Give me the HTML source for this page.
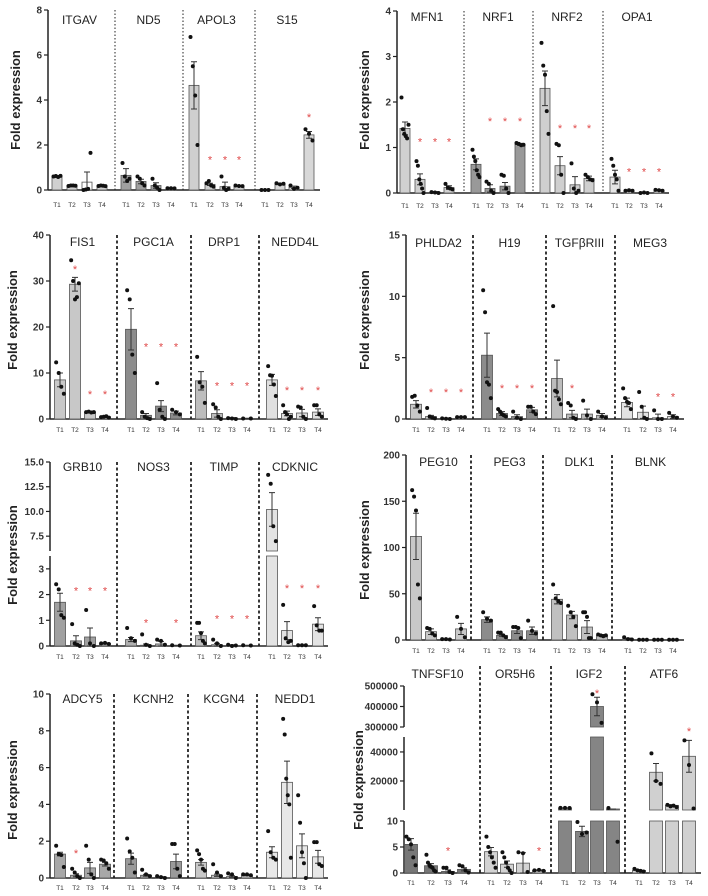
<!DOCTYPE html>
<html><head><meta charset="utf-8">
<style>
html,body{margin:0;padding:0;background:#fff;}
svg{display:block;font-family:"Liberation Sans",Arial,sans-serif;}
</style></head>
<body>
<svg id="fig" width="708" height="896" viewBox="0 0 708 896" xmlns="http://www.w3.org/2000/svg"></svg>
<script>
// ---------- DATA ----------
const tLabels = ["T1","T2","T3","T4"];
// Panel 1
const p1Genes = ["ITGAV","ND5","APOL3","S15"];
const p1Means = [[0.6,0.2,0.35,0.18],[0.65,0.38,0.2,0.08],[4.65,0.25,0.15,0.18],[0.02,0.27,0.12,2.45]];
const p1Sems  = [[0.03,0.02,0.45,0.02],[0.3,0.1,0.12,0.01],[1.05,0.05,0.2,0.02],[0,0.03,0.05,0.15]];
const p1Stars = [[null,null,null,null],[null,null,null,null],[null,1.4,1.4,1.4],[null,null,null,3.3]];
const p1Dots  = [[[0.6,0.62,0.58,0.63],[0.18,0.2,0.2,0.19],[0,0.02,0.05,1.65],[0.18,0.2,0.19,0.17]],
 [[1.2,0.6,0.4,0.5],[0.6,0.5,0.3,0.2],[0.5,0.2,0.1,0],[0.08,0.08,0.07]],
 [[6.8,5.5,4.2,2.0],[0.3,0.4,0.2,0.15],[0.6,0.1,0,0.05],[0.2,0.18,0.17]],
 [[0,0,0],[0.3,0.25,0.28],[0.2,0.05,0.1],[2.7,2.5,2.2]]];
const p1Ticks = [0,2,4,6,8];
// Panel 2
const p2Genes = ["MFN1","NRF1","NRF2","OPA1"];
const p2Means = [[1.42,0.3,0.02,0.12],[0.63,0.1,0.15,1.07],[2.3,0.6,0.18,0.32],[0.35,0.05,0.01,0.06]];
const p2Sems  = [[0.14,0.12,0.01,0.04],[0.12,0.08,0.08,0.02],[0.38,0.2,0.18,0.05],[0.15,0.01,0,0.01]];
const p2Stars = [[null,1.15,1.15,1.15],[null,1.6,1.6,1.6],[null,1.45,1.45,1.45],[null,0.5,0.5,0.5]];
const p2Dots  = [[[2.1,1.4,1.3,1.25,1.2,1.5],[0.7,0.6,0.3,0.2,0.1,0],[0.02,0.01,0],[0.2,0.12,0.1,0.08]],
 [[0.95,0.8,0.7,0.5,0.4,0.35],[0.25,0.2,0.05,0],[0.4,0.38,0.1,0],[1.1,1.08,1.05,1.06]],
 [[3.3,2.8,2.6,1.8,1.3],[1.08,1.05,0.4,0.0],[0.65,0.1,0,0.05],[0.4,0.35,0.3,0.28]],
 [[0.75,0.6,0.4,0.3,0.05],[0.05,0.06,0.05],[0,0.01,0],[0.07,0.06,0.05]]];
const p2Ticks = [0,1,2,3,4];
// Panel 3
const p3Genes = ["FIS1","PGC1A","DRP1","NEDD4L"];
const p3Means = [[8.5,29.3,1.5,0.5],[19.5,0.8,2.8,1.3],[8.3,1.2,0.2,0.1],[8.5,1.2,1.3,1.5]];
const p3Sems  = [[1.5,1.5,0.2,0.1],[4.5,0.4,1.2,0.4],[2,0.8,0.1,0.05],[1.2,0.5,0.8,0.7]];
const p3Stars = [[null,32.8,5.6,5.6],[null,16,16,16],[null,7.5,7.5,7.5],[null,6.5,6.5,6.5]];
const p3Dots  = [[[12.3,10,7,5.5],[34.5,30,26,26.5,29.5],[1.5,1.6,1.4,1.5],[0.4,0.5,0.6,0.3]],
 [[28,26,14,10],[1.5,0.5,0.2,0],[7.8,2,0.5,0],[2,1.5,1]],
 [[13.5,8,7,3.5],[3.2,2.5,0.5,0],[0.2,0.1,0],[0.1,0.1]],
 [[11.5,9.5,9.4,7.5,5],[3,1.5,1,0,0.5],[2.7,2.5,0.5,0],[3,3,1,0.5]]];
const p3Ticks = [0,10,20,30,40];
// Panel 4
const p4Genes = ["PHLDA2","H19","TGF\u03B2RIII","MEG3"];
const p4Means = [[1.2,0.2,0.05,0.15],[5.2,0.45,0.2,0.75],[3.3,0.4,0.4,0.3],[1.35,0.55,0.1,0.2]];
const p4Sems  = [[0.3,0.1,0.03,0.02],[1.8,0.15,0.15,0.2],[1.5,0.3,0.4,0.15],[0.35,0.5,0.3,0.15]];
const p4Stars = [[null,2.3,2.3,2.3],[null,2.6,2.6,2.6],[null,2.6,null,null],[null,null,1.9,1.9]];
const p4Dots  = [[[1.8,1.9,1.1,0.6],[0.9,0.2,0.1,0.05],[0.05,0.02,0],[0.15,0.15,0.15]],
 [[10.5,8.7,3,2.8,1.7],[0.8,0.6,0.4,0.3,0.2],[0.6,0.1,0],[1.0,1.0,0.6,0.4]],
 [[9.2,2.3,2.2,1.6,1.2],[1.3,1.1,0.1,0],[1.5,0.3,0],[0.6,0.2,0.1]],
 [[2.5,1.7,1.4,1.3,0.8],[2.2,1,0.1,0],[0.7,0,0],[0.5,0.2,0.1]]];
const p4Ticks = [0,5,10,15];
// Panel 5
const p5Genes = ["GRB10","NOS3","TIMP","CDKNIC"];
const p5Means = [[1.7,0.2,0.35,0.1],[0.25,0.03,0.08,0.02],[0.4,0.05,0.03,0.02],[10.2,0.6,0.03,0.85]];
const p5Sems  = [[0.35,0.2,0.35,0.02],[0.08,0.05,0.1,0.01],[0.15,0.05,0.02,0.01],[1.7,0.35,0.01,0.25]];
const p5Stars = [[null,2.2,2.2,2.2],[null,0.95,null,0.95],[null,1.1,1.1,1.1],[null,2.3,2.3,2.3]];
const p5Dots  = [[[2.4,2.2,1.2,1.1],[0.85,0.1,0.05,0],[1.4,0.1,0],[0.1,0.12,0.08]],
 [[0.7,0.3,0.2],[0.45,0.05,0],[0.25,0.2,0.05],[0.03,0.02]],
 [[0.9,0.9,0.5,0.2,0.1],[0.25,0.1,0],[0.05,0,0.02],[0.03,0.02]],
 [[13.7,12.8,8.5,7],[1.6,0.3,0.15,0.2],[0.03,0.03,0.03],[1.55,0.8,0.6,0.6]]];
const p5Ticks = [0,1,2,3,7.5,10.0,12.5,15.0];
const p5TickText = ["0","1","2","3","7.5","10.0","12.5","15.0"];
// Panel 6
const p6Genes = ["PEG10","PEG3","DLK1","BLNK"];
const p6Means = [[112,9,0.8,12],[22,5,10,10],[44,27,14,5],[1,0.3,0.3,0.3]];
const p6Sems  = [[25,3,0.3,6],[3,1,3,4],[5,4,7,1],[1,0,0,0]];
const p6Stars = [[null,null,null,null],[null,null,null,null],[null,null,null,null],[null,null,null,null]];
const p6Dots  = [[[162,155,140,60,45],[13,12,7,5],[1,1,0.5],[25,12,3]],
 [[30,23,21],[8,8,5,3],[14,14,13,2],[21,10,7]],
 [[60,45,42,40],[37,30,25,15],[30,30,25,2,2],[6,5,4,5]],
 [[3,1,0.5],[0.3,0.3,0.3],[0.3,0.3,0.3],[0.3,0.3,0.3]]];
const p6Ticks = [0,50,100,150,200];
// Panel 7
const p7Genes = ["ADCY5","KCNH2","KCGN4","NEDD1"];
const p7Means = [[1.3,0.15,0.55,0.75],[1.05,0.15,0.05,0.9],[0.85,0.15,0.08,0.15],[1.4,5.2,1.75,1.15]];
const p7Sems  = [[0.1,0.08,0.3,0.1],[0.3,0.05,0.02,0.4],[0.15,0.06,0.04,0.03],[0.3,1.15,0.65,0.35]];
const p7Stars = [[null,1.4,null,null],[null,null,null,null],[null,null,null,null],[null,null,null,null]];
const p7Dots  = [[[1.75,1.3,1.25,0.6],[0.5,0.3,0.1,0],[1.75,1.0,0.2,0],[1.0,0.95,0.8,0.5]],
 [[2.15,1.45,1.1,0.3],[0.45,0.2,0.1],[0.1,0.05,0],[1.85,1.85,0.5,0.1]],
 [[1.5,1.3,1.0,0.5,0.4],[0.75,0.3,0.1],[0.25,0.2,0],[0.2,0.2,0.15]],
 [[2.55,1.4,1.1,1.0],[8.65,7.8,5.4,4.5,4.0,1.1],[4.5,3.0,1.4,0.8,0],[1.95,1.95,0.75,0.65]]];
const p7Ticks = [0,2,4,6,8,10];
// Panel 8
const p8Genes = ["TNFSF10","OR5H6","IGF2","ATF6"];
const p8Means = [[5.5,1.4,0.3,0.7],[4.1,1.7,1.9,0.5],[1400,8,400000,700],[0.5,26000,3200,37000]];
const p8Sems  = [[1.1,0.4,0.3,0.3],[0.8,0.6,2,0.1],[50,1,45000,0],[0.1,6000,500,11000]];
const p8Stars = [[null,null,4.5,null],[null,null,null,4.5],[null,null,470000,null],[null,null,null,55000]];
const p8Dots  = [[[7,6.5,5.5,3,1.5],[3.5,2,1.5,1.2,1,0.5,0.3],[1,1,0.2,0],[1.5,1.3,0.5,0.1]],
 [[7,5,4,3,2,1],[4,3,2,1,0.5,0],[4,3.8,0.2],[0.5,0.6,0.4]],
 [[1500,1500,1400],[9.8,7.5,7.8],[460000,420000,320000],[1400,6]],
 [[0.8,0.5,0.4,0.3],[39000,20000,18000],[3500,2500,3000,2000],[48000,31000,1000]]];
const p8Ticks = [0,5,10,20000,40000,300000,400000,500000];

// ---------- LAYOUT ----------
const panels = [
 {id:"p1",genes:p1Genes,means:p1Means,sems:p1Sems,stars:p1Stars,dots:p1Dots,ticks:p1Ticks,
  ax:48,axEnd:320,titleY:20,tY:204,yt:{x:20,y:100},bw:10,
  segs:[{v0:0,v1:8,y0:190,y1:10}],
  bars:[[57,72,87,102],[126,141,156,171],[194,210,225,239],[265,280,294,309]],div:[115,183,255],
  fills:["#d0d0d0","#a0a0a0","#cfcfcf","#d8d8d8"],fine:true},
 {id:"p2",genes:p2Genes,means:p2Means,sems:p2Sems,stars:p2Stars,dots:p2Dots,ticks:p2Ticks,
  ax:397,axEnd:669,titleY:17,tY:205,yt:{x:369,y:100},bw:10,
  segs:[{v0:0,v1:4,y0:193,y1:11}],
  bars:[[405,420,435,449],[476,490,505,520],[545,560,575,589],[615,629,644,659]],div:[464,533,603],
  fills:["#d0d0d0","#999999","#cfcfcf","#e5e5e5"],fine:true},
 {id:"p3",genes:p3Genes,means:p3Means,sems:p3Sems,stars:p3Stars,dots:p3Dots,ticks:p3Ticks,
  ax:50,axEnd:328,titleY:242,tY:429,yt:{x:17,y:320},bw:11,
  segs:[{v0:0,v1:40,y0:419,y1:235}],
  bars:[[60,75,90,105],[131,146,161,176],[201,217,232,247],[272,287,302,318]],div:[117,191,259],
  fills:["#c8c8c8","#8c8c8c","#bdbdbd","#e0e0e0"]},
 {id:"p4",genes:p4Genes,means:p4Means,sems:p4Sems,stars:p4Stars,dots:p4Dots,ticks:p4Ticks,
  ax:406,axEnd:684,titleY:243,tY:429,yt:{x:369,y:320},bw:11,
  segs:[{v0:0,v1:15,y0:419,y1:235}],
  bars:[[416,431,446,461],[487,502,517,532],[557,572,587,602],[627,643,658,673]],div:[473,546,615],
  fills:["#c8c8c8","#8c8c8c","#bdbdbd","#e3e3e3"]},
 {id:"p5",genes:p5Genes,means:p5Means,sems:p5Sems,stars:p5Stars,dots:p5Dots,ticks:p5Ticks,tickText:p5TickText,
  ax:50,axEnd:328,titleY:467,tY:656,yt:{x:17,y:555},bw:11,
  segs:[{v0:0,v1:3.5,y0:646,y1:556},{v0:6,v1:15,y0:551,y1:462}],
  bars:[[60,76,90,105],[131,146,161,176],[201,217,232,247],[272,287,302,318]],div:[117,191,259],
  fills:["#a0a0a0","#b0b0b0","#c0c0c0","#e3e3e3"]},
 {id:"p6",genes:p6Genes,means:p6Means,sems:p6Sems,stars:p6Stars,dots:p6Dots,ticks:p6Ticks,
  ax:406,axEnd:684,titleY:462,tY:650,yt:{x:369,y:550},bw:11,
  segs:[{v0:0,v1:200,y0:640,y1:455}],
  bars:[[416,431,446,461],[487,502,517,532],[557,572,587,602],[628,643,658,673]],div:[471,543,612],
  fills:["#c8c8c8","#8c8c8c","#c0c0c0","#e3e3e3"]},
 {id:"p7",genes:p7Genes,means:p7Means,sems:p7Sems,stars:p7Stars,dots:p7Dots,ticks:p7Ticks,
  ax:50,axEnd:328,titleY:699,tY:887,yt:{x:17,y:790},bw:11,
  segs:[{v0:0,v1:10,y0:878,y1:694}],
  bars:[[60,76,90,105],[131,146,161,176],[201,217,232,247],[272,287,302,318]],div:[114,188,257],
  fills:["#a8a8a8","#9a9a9a","#c8c8c8","#e8e8e8"]},
 {id:"p8",genes:p8Genes,means:p8Means,sems:p8Sems,stars:p8Stars,dots:p8Dots,ticks:p8Ticks,
  ax:404,axEnd:701,titleY:674,tY:882,yt:{x:363,y:780},bw:13,
  segs:[{v0:0,v1:10,y0:873,y1:821},{v0:0,v1:50300,y0:810,y1:737},{v0:300000,v1:500000,y0:727,y1:686}],
  bars:[[411,431,448,464],[491,507,523,539],[565,582,597,613],[639,656,672,689]],div:[480,551,625],
  fills:["#777777","#d3d3d3","#858585","#d0d0d0"],titleAbove:true}
];

const NS="http://www.w3.org/2000/svg";
const svg=document.getElementById("fig");
function mk(tag,attrs,parent){const e=document.createElementNS(NS,tag);for(const k in attrs)e.setAttribute(k,attrs[k]);(parent||svg).appendChild(e);return e;}

function segFor(p,v){
  let best=p.segs[0];
  for(const s of p.segs){ if(v>=s.v0 && v<=s.v1) return s; }
  for(const s of p.segs){ if(v>=s.v0) best=s; }
  return best;
}
function yMap(s,v){return s.y0+(v-s.v0)*(s.y1-s.y0)/(s.v1-s.v0);}
function yOf(p,v){return yMap(segFor(p,v),v);}

panels.forEach(p=>{
  const g=mk("g",{});
  
  
  const base=p.segs[0].y0;
  // y axis title
  const yt=mk("text",{x:p.yt.x,y:p.yt.y,"font-size":"13","font-weight":"bold","fill":"#222","text-anchor":"middle",transform:`rotate(-90 ${p.yt.x} ${p.yt.y})`},g);
  yt.textContent="Fold expression";
  
  
  // y axis segments
  p.segs.forEach(s=>{
    const l=mk("line",{x1:p.ax,x2:p.ax,y1:s.y0,y2:s.y1,stroke:"#222","stroke-width":"1.5"},g);
    
    
  });
  // ticks
  p.ticks.forEach((t,i)=>{
    const y=yOf(p,t);
    mk("line",{x1:p.ax-4,x2:p.ax,y1:y,y2:y,stroke:"#222","stroke-width":"1.2"},g);
    const tx=mk("text",{x:p.ax-6,y:y+3.5,"font-size":"10","font-weight":"bold","fill":"#333","text-anchor":"end"},g);
    tx.textContent=p.tickText?p.tickText[i]:String(t);
    
    
  });
  // x axis
  const xa=mk("line",{x1:p.ax,x2:p.axEnd,y1:base,y2:base,stroke:"#222","stroke-width":"1.5"},g);
  
  
  // dividers
  const topY=p.segs[p.segs.length-1].y1;
  p.div.forEach(x=>{
    const d=mk("line",{x1:x,x2:x,y1:topY-(p.titleAbove?20:0),y2:base,stroke:"#222","stroke-width":p.fine?"1":"1.8","stroke-dasharray":p.fine?"1.5,2":"3,2.5"},g);
    
    
  });
  p.genes.forEach((gene,gi)=>{
    const gc=(p.bars[gi][0]+p.bars[gi][3])/2;
    const tt=mk("text",{x:gc,y:p.titleY+4,"font-size":"12","fill":"#222","text-anchor":"middle"},g);
    tt.textContent=gene;
    
    
    for(let k=0;k<4;k++){
      const bx=p.bars[gi][k], m=p.means[gi][k], se=p.sems[gi][k];
      const fill=(p.id==="p1"&&gi===0&&k===2)?"#ffffff":p.fills[gi];
      // bar pieces per segment
      p.segs.forEach(s=>{
        if(m>s.v0){
          const ya=s.y0, yb=yMap(s,Math.min(m,s.v1));
          const h=ya-yb;
          if(h>0.5){
            const r=mk("rect",{x:bx-p.bw/2,y:yb,width:p.bw,height:h,fill:fill,stroke:"#555","stroke-width":"0.8"},g);
            
            
          }
        }
      });
      // error bar
      const s=segFor(p,m);
      const ey1=yMap(s,Math.max(s.v0,m-se)), ey2=yMap(s,Math.min(s.v1,m+se));
      const eb=mk("path",{d:`M${bx} ${ey1}V${ey2}M${bx-3} ${ey2}H${bx+3}M${bx-3} ${ey1}H${bx+3}`,stroke:"#333","stroke-width":"1",fill:"none"},g);
      
      
      // dots
      const ds=p.dots[gi][k]; const n=ds.length;
      ds.forEach((v,j)=>{
        const off=n>1?(j/(n-1)-0.5)*(p.bw*0.7):0;
        const c=mk("circle",{cx:bx+off,cy:yOf(p,v),r:"2",fill:"#111"},g);
        
        
      });
      // star
      const st=p.stars[gi][k];
      if(st!==null){
        const sx=mk("text",{x:bx,y:yOf(p,st)+5,"font-size":"11","fill":"#e04848","text-anchor":"middle"},g);
        sx.textContent="*";
        
        
      }
      // x label
      const xl=mk("text",{x:bx,y:p.tY+3,"font-size":"6.5","fill":"#333","text-anchor":"middle"},g);
      xl.textContent=tLabels[k];
      
      
    }
  });
});
</script>
</body></html>
